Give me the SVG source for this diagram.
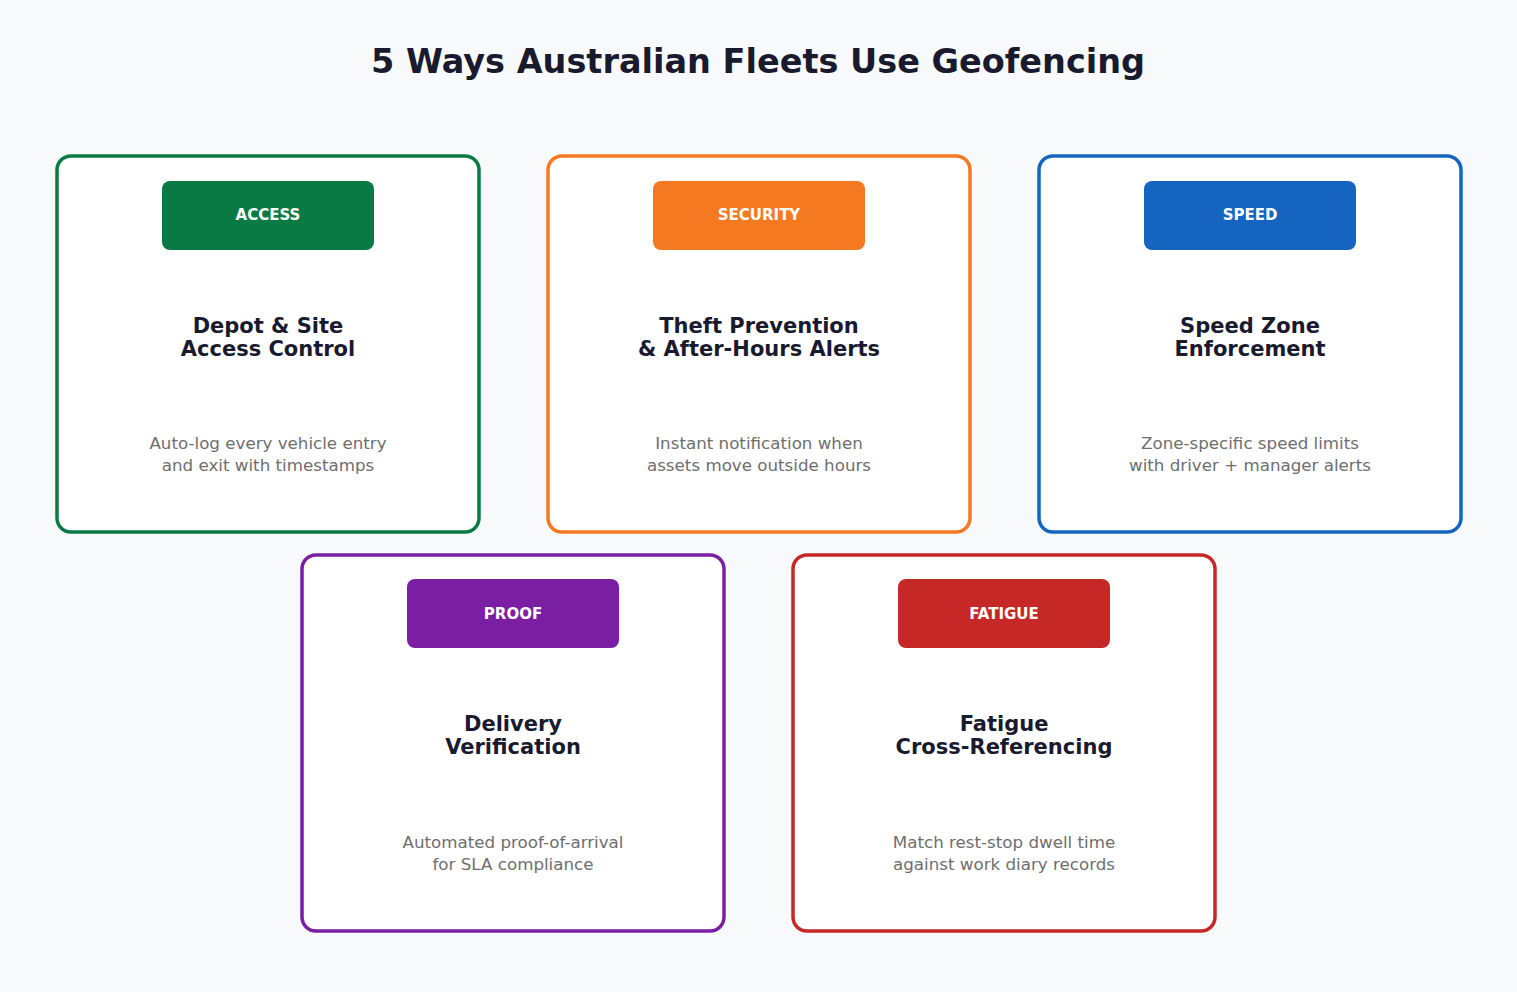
<svg xmlns="http://www.w3.org/2000/svg" width="1517" height="992" viewBox="0 0 1517 992">
<style>
text{font-family:"DejaVu Sans","Liberation Sans",sans-serif;text-anchor:middle}
.card{fill:#fff;stroke-width:3.5}
.badge-t{fill:#fff;font-size:15px;font-weight:bold}
.t{fill:#1a1a2e;font-size:21px;font-weight:bold}
.d{fill:#6e6e6e;font-size:16.7px}
</style>
<rect width="1517" height="992" fill="#f8f9fb"/>
<text x="758" y="73" style="font-size:33.5px;font-weight:bold;fill:#1a1a2e">5 Ways Australian Fleets Use Geofencing</text>
<g id="access">
<rect class="card" x="57" y="156" width="422" height="376" rx="14" stroke="#0a7a45"/>
<rect x="162" y="181" width="212" height="69" rx="8" fill="#0a7a45"/>
<text class="badge-t" x="268" y="220">ACCESS</text>
<text class="t" x="268" y="333">Depot &amp; Site</text><text class="t" x="268" y="356">Access Control</text>
<text class="d" x="268" y="449">Auto-log every vehicle entry</text><text class="d" x="268" y="471">and exit with timestamps</text>
</g>
<g id="security">
<rect class="card" x="548" y="156" width="422" height="376" rx="14" stroke="#f47920"/>
<rect x="653" y="181" width="212" height="69" rx="8" fill="#f47920"/>
<text class="badge-t" x="759" y="220">SECURITY</text>
<text class="t" x="759" y="333">Theft Prevention</text><text class="t" x="759" y="356">&amp; After-Hours Alerts</text>
<text class="d" x="759" y="449">Instant notification when</text><text class="d" x="759" y="471">assets move outside hours</text>
</g>
<g id="speed">
<rect class="card" x="1039" y="156" width="422" height="376" rx="14" stroke="#1565c0"/>
<rect x="1144" y="181" width="212" height="69" rx="8" fill="#1565c0"/>
<text class="badge-t" x="1250" y="220">SPEED</text>
<text class="t" x="1250" y="333">Speed Zone</text><text class="t" x="1250" y="356">Enforcement</text>
<text class="d" x="1250" y="449">Zone-specific speed limits</text><text class="d" x="1250" y="471">with driver + manager alerts</text>
</g>
<g id="proof">
<rect class="card" x="302" y="555" width="422" height="376" rx="14" stroke="#7b1fa2"/>
<rect x="407" y="579" width="212" height="69" rx="8" fill="#7b1fa2"/>
<text class="badge-t" x="513" y="619">PROOF</text>
<text class="t" x="513" y="731">Delivery</text><text class="t" x="513" y="754">Verification</text>
<text class="d" x="513" y="848">Automated proof-of-arrival</text><text class="d" x="513" y="870">for SLA compliance</text>
</g>
<g id="fatigue">
<rect class="card" x="793" y="555" width="422" height="376" rx="14" stroke="#c62828"/>
<rect x="898" y="579" width="212" height="69" rx="8" fill="#c62828"/>
<text class="badge-t" x="1004" y="619">FATIGUE</text>
<text class="t" x="1004" y="731">Fatigue</text><text class="t" x="1004" y="754">Cross-Referencing</text>
<text class="d" x="1004" y="848">Match rest-stop dwell time</text><text class="d" x="1004" y="870">against work diary records</text>
</g>
<g id="connectors"/>
</svg>
